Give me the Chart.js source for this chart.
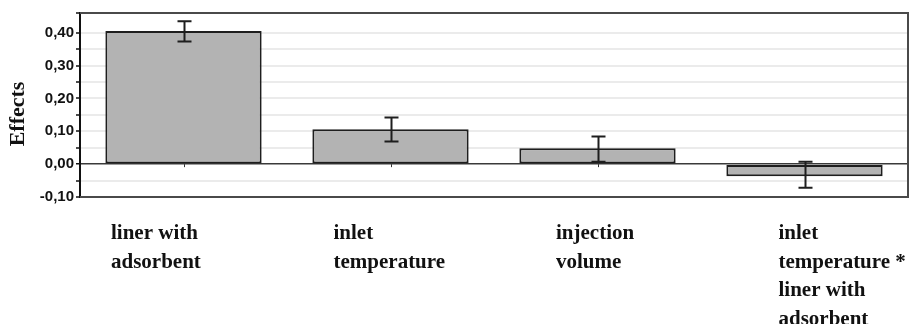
<!DOCTYPE html>
<html lang="en">
<head>
<meta charset="UTF-8">
<title>Effects</title>
<script src="https://cdn.jsdelivr.net/npm/chart.js"></script>
<style>
  html, body { margin: 0; padding: 0; background: #fff; }
  #wrap { width: 911px; height: 324px; }
</style>
</head>
<body>
<div id="wrap"><canvas id="effectsChart" width="911" height="324"></canvas></div>
<script>
const categories = [
  ['liner with', 'adsorbent'],
  ['inlet', 'temperature'],
  ['injection', 'volume'],
  ['inlet', 'temperature *', 'liner with', 'adsorbent']
];
const effects = [0.405, 0.106, 0.048, -0.037];
const errorLow = [0.373, 0.069, 0.007, -0.072];
const errorHigh = [0.435, 0.142, 0.084, 0.007];
const yTicks = [-0.10, 0.00, 0.10, 0.20, 0.30, 0.40];

const serif = '"Liberation Serif", "Times New Roman", serif';

// error bars, frame, axis title and category labels
const decorations = {
  id: 'decorations',
  afterDatasetsDraw(chart) {
    const { ctx, chartArea: a, scales: { x, y } } = chart;
    ctx.save();

    ctx.strokeStyle = '#1e1e1e';
    ctx.lineWidth = 2;
    effects.forEach((v, i) => {
      const cx = Math.round(x.getPixelForValue(i)) + 0.5;
      const top = y.getPixelForValue(errorHigh[i]);
      const bot = y.getPixelForValue(errorLow[i]);
      ctx.beginPath();
      ctx.moveTo(cx, top); ctx.lineTo(cx, bot);
      ctx.moveTo(cx - 7, top); ctx.lineTo(cx + 7, top);
      ctx.moveTo(cx - 7, bot); ctx.lineTo(cx + 7, bot);
      ctx.stroke();
    });

    // little category ticks under the zero line
    const zero = y.getPixelForValue(0);
    ctx.lineWidth = 1;
    ctx.strokeStyle = '#333';
    effects.forEach((v, i) => {
      if (v < 0) return;
      const cx = Math.round(x.getPixelForValue(i)) + 0.5;
      ctx.beginPath();
      ctx.moveTo(cx, zero); ctx.lineTo(cx, zero + 3);
      ctx.stroke();
    });

    // frame
    ctx.strokeStyle = '#4a4a4a';
    ctx.lineWidth = 2;
    ctx.beginPath();
    ctx.moveTo(a.left, a.top); ctx.lineTo(a.right, a.top);
    ctx.lineTo(a.right, a.bottom); ctx.lineTo(a.left, a.bottom);
    ctx.stroke();

    // y title
    ctx.fillStyle = '#111';
    ctx.font = 'bold 22px ' + serif;
    ctx.textAlign = 'center';
    ctx.textBaseline = 'middle';
    ctx.translate(18, (a.top + a.bottom) / 2 + 9);
    ctx.rotate(-Math.PI / 2);
    ctx.fillText('Effects', 0, 0);
    ctx.setTransform(1, 0, 0, 1, 0, 0);

    // category labels below the plot
    ctx.font = 'bold 21px ' + serif;
    ctx.textAlign = 'left';
    ctx.textBaseline = 'alphabetic';
    categories.forEach((lines, i) => {
      const lx = a.left + 31 + i * 222.5;
      lines.forEach((t, j) => ctx.fillText(t, lx, a.bottom + 42 + j * 28.5));
    });

    ctx.restore();
  }
};

new Chart(document.getElementById('effectsChart'), {
  type: 'bar',
  data: {
    labels: categories.map(c => c.join(' ')),
    datasets: [{
      data: effects,
      backgroundColor: '#b3b3b3',
      borderColor: '#1e1e1e',
      borderWidth: 2,
      borderSkipped: false,
      categoryPercentage: 1,
      barPercentage: 0.755
    }]
  },
  options: {
    responsive: false,
    animation: false,
    layout: { padding: { top: 13, right: 3, bottom: 127, left: 0 } },
    plugins: { legend: { display: false }, tooltip: { enabled: false } },
    scales: {
      x: { display: false },
      y: {
        min: -0.10,
        max: 0.46,
        afterFit(scale) { scale.width = 80; },
        ticks: {
          stepSize: 0.05,
          maxTicksLimit: 30,
          autoSkip: false,
          padding: 2,
          color: '#111',
          font: { family: '"Liberation Sans", Arial, sans-serif', size: 15, weight: 'bold' },
          callback(value) {
            const hit = yTicks.find(t => Math.abs(t - value) < 1e-6);
            return hit === undefined ? '' : hit.toFixed(2).replace('.', ',');
          }
        },
        grid: {
          color: ctx => (ctx.tick && Math.abs(ctx.tick.value) < 1e-6) ? '#3a3a3a' : '#ebebeb',
          lineWidth: ctx => (ctx.tick && Math.abs(ctx.tick.value) < 1e-6) ? 1.5 : 2,
          tickLength: 4,
          tickColor: '#111',
          tickWidth: 1.5
        },
        border: { color: '#111', width: 2 }
      }
    }
  },
  plugins: [decorations]
});
</script>
</body>
</html>
